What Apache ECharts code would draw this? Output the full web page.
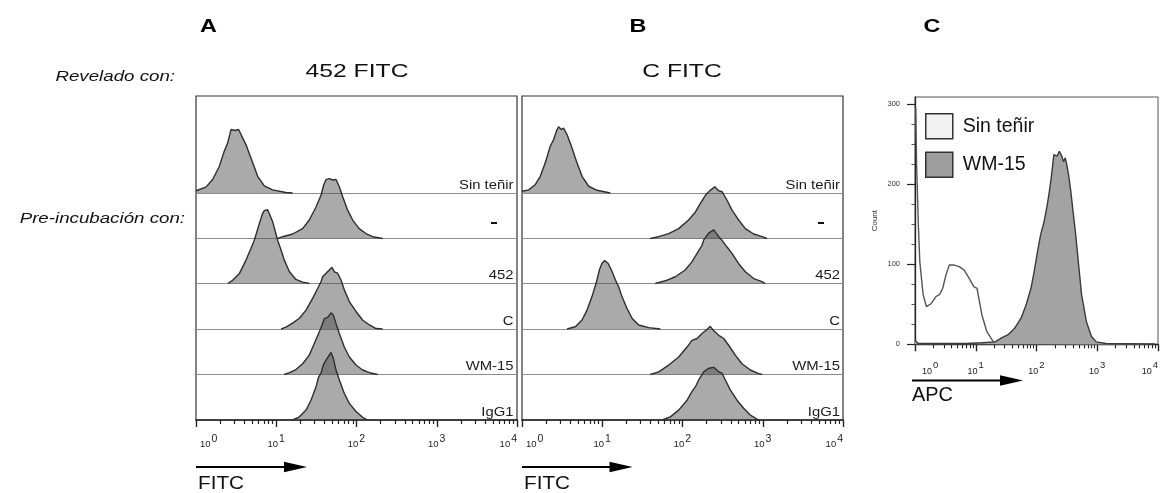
<!DOCTYPE html>
<html>
<head>
<meta charset="utf-8">
<script src="https://cdn.jsdelivr.net/npm/echarts@6/dist/echarts.min.js"></script>
<style>
html,body{margin:0;padding:0;background:#fff;}
#chart{width:1161px;height:493px;}
</style>
</head>
<body>
<div id="chart"></div>
<script>
// ---------------- DATA ----------------
const panelLetters = ['A', 'B', 'C'];
const panelTitles = ['452 FITC', 'C FITC'];
const rowLabels = ['Sin teñir', '-', '452', 'C', 'WM-15', 'IgG1'];
const sideLabels = ['Revelado con:', 'Pre-incubación con:'];
const xAxisNames = ['FITC', 'FITC', 'APC'];
const decadeTicks = [1, 10, 100, 1000, 10000];
const minorTicks = [2,3,4,5,6,7,8,9,20,30,40,50,60,70,80,90,200,300,400,500,600,700,800,900,2000,3000,4000,5000,6000,7000,8000,9000];
const countTicks = [0, 100, 200, 300];
const countMinorTicks = [25, 50, 75, 125, 150, 175, 225, 250, 275];
const legendNames = ['Sin teñir', 'WM-15'];

// Panel A (revealed with 452 FITC): [fluorescence, events]
const A_sinTenir = [[1.0,5],[1.33,13],[1.61,30],[1.95,59],[2.25,93],[2.48,111],[2.73,141],[2.86,144],[3.09,139],[3.40,141],[3.64,130],[4.2,107],[4.84,78],[5.87,37],[7.1,16],[9.0,7],[13.2,1],[16,0]];
const A_none = [[10.4,0],[12.0,4],[16.0,10],[21.3,22],[25.8,41],[31.3,70],[36.1,96],[39.0,119],[41.7,131],[45.8,133],[50.5,130],[55.6,131],[61.1,115],[67.3,93],[77.6,63],[89.6,41],[108,22],[131,11],[159,4],[212,0]];
const A_452 = [[2.48,0],[2.86,7],[3.47,22],[4.2,52],[4.84,78],[5.33,96],[6.15,133],[6.77,156],[7.1,162],[7.45,158],[7.82,164],[9.0,138],[10.4,96],[11.5,74],[12.6,52],[14.6,26],[17.6,9],[21.3,3],[25.8,0]];
const A_C = [[11.5,0],[13.2,4],[16.0,13],[19.4,24],[23.5,42],[28.4,68],[32.8,90],[36.1,105],[37.9,116],[41.7,124],[45.8,131],[49.5,137],[53.0,127],[58.2,124],[64.1,109],[70.5,87],[81.4,61],[98.6,39],[119,20],[145,9],[175,1],[212,0]];
const A_WM15 = [[12.6,0],[14.6,4],[17.6,11],[21.3,24],[25.8,43],[29.8,69],[34.4,95],[37.2,110],[39.7,124],[43.7,127],[48.1,137],[51.4,132],[55.6,113],[61.1,91],[70.5,61],[81.4,39],[98.6,21],[119,10],[145,4],[184,0]];
const A_IgG1 = [[16.0,0],[19.4,7],[23.5,22],[27.1,44],[31.3,74],[33.8,96],[36.1,104],[38.6,122],[41.7,133],[48.1,150],[51.4,137],[55.6,111],[61.1,89],[70.5,59],[81.4,37],[98.6,19],[119,6],[138,0]];

// Panel B (revealed with C FITC)
const B_sinTenir = [[1.0,4],[1.21,7],[1.47,19],[1.69,37],[1.95,67],[2.25,104],[2.48,119],[2.73,141],[2.86,147],[3.09,141],[3.30,144],[3.64,130],[4.2,100],[4.84,67],[5.6,37],[6.77,15],[8.6,6],[12.6,0]];
const B_none = [[39.7,0],[50.5,4],[67.3,11],[89.6,22],[119,41],[145,59],[167,78],[193,96],[222,107],[252,115],[283,106],[311,104],[359,85],[414,63],[501,41],[607,22],[771,10],[979,4],[1130,0]];
const B_452 = [[45.8,0],[61.1,6],[81.4,15],[108,30],[131,48],[152,67],[175,85],[184,97],[212,112],[245,119],[283,104],[311,96],[359,81],[414,67],[501,44],[607,26],[771,11],[979,4],[1077,0]];
const B_C = [[3.64,0],[4.62,5],[5.6,20],[6.46,42],[7.45,72],[8.36,101],[9.2,131],[9.93,146],[10.7,152],[11.8,146],[13.0,131],[14.6,109],[16.0,94],[17.6,72],[20.3,46],[23.5,24],[28.4,9],[37.9,3],[53.0,0]];
const B_WM15 = [[39.7,0],[50.5,6],[67.3,21],[89.6,39],[114,61],[131,76],[152,80],[175,91],[202,100],[222,107],[245,97],[283,87],[326,80],[376,65],[455,43],[551,24],[700,10],[889,2],[979,0]];
const B_IgG1 = [[55.6,0],[70.5,7],[89.6,22],[114,44],[131,63],[145,74],[159,89],[184,107],[212,115],[245,117],[283,107],[311,104],[342,89],[394,67],[478,44],[578,26],[700,11],[889,0]];

// Panel C (APC, Count)
const C_sinTenir = [[1.03,295],[1.06,228],[1.13,153],[1.2,103],[1.36,62],[1.54,47],[1.86,51],[2.23,60],[2.53,62],[2.86,70],[3.24,87],[3.67,99],[4.42,99],[5.32,97],[6.4,93],[7.71,83],[9.29,72],[10.5,70],[11.2,58],[12.6,37],[15.2,16],[19.5,3],[23.5,1],[81,1],[964,0],[8900,0]];
const C_WM15 = [[1.0,5],[1.13,1],[1.98,1],[6.8,1],[12.6,2],[20.8,3],[26.6,8],[34.1,12],[43.6,20],[55.9,33],[67.3,49],[81.1,70],[91.7,91],[104,116],[117,137],[133,153],[147,170],[160,187],[175,208],[193,237],[205,239],[218,235],[238,241],[262,235],[279,228],[297,233],[316,224],[337,212],[367,191],[405,162],[442,137],[488,103],[552,62],[665,28],[800,10],[964,3],[1400,1],[8900,0]];

// ---------------- LAYOUT / STYLE ----------------
const FONT = '"Liberation Sans", Arial, Helvetica, sans-serif';
const panelsAB = [
  {id: 'A', left: 196, width: 321, rows: [A_sinTenir, A_none, A_452, A_C, A_WM15, A_IgG1], labelRight: 513.5, dashX: 494},
  {id: 'B', left: 522, width: 321, rows: [B_sinTenir, B_none, B_452, B_C, B_WM15, B_IgG1], labelRight: 840, dashX: 821}
];
const baselines = [193, 238.5, 283.5, 329, 374.5, 420];
const ROW_H = 45;
const FILL = 'rgba(74,74,74,0.47)';
const LINE = '#2e2e2e';

const grid = [], xAxis = [], yAxis = [], series = [];

function expLabel() {
  return function (v) {
    const e = Math.round(Math.log10(v));
    return (v === 1 ? '{sp| }' : '') + '{b|10}{e|' + e + '}';
  };
}

panelsAB.forEach(function (p) {
  // frame
  grid.push({left: p.left, top: 96, width: p.width, height: 324, show: true, borderColor: '#333', borderWidth: 1.2, backgroundColor: 'transparent'});
  let gi = grid.length - 1;
  xAxis.push({gridIndex: gi, type: 'value', show: false});
  yAxis.push({gridIndex: gi, type: 'value', show: false});
  p.rows.forEach(function (data, r) {
    const last = r === p.rows.length - 1;
    grid.push({left: p.left, top: baselines[r] - ROW_H, width: p.width, height: ROW_H});
    gi = grid.length - 1;
    xAxis.push({
      gridIndex: gi, type: 'log', logBase: 10, min: 1, max: 10000, position: 'bottom',
      axisLine: {show: true, onZero: false, lineStyle: {color: last ? '#222' : '#8c8c8c', width: last ? 1.6 : 1}},
      axisTick: {show: last, customValues: decadeTicks, length: 7, lineStyle: {color: '#222', width: 1.4}},
      axisLabel: {
        show: last, customValues: decadeTicks, margin: 14, color: '#222',
        alignMinLabel: 'left', alignMaxLabel: 'right',
        formatter: expLabel(),
        rich: {
          b: {fontSize: 9.5, fontFamily: FONT, color: '#222'},
          e: {fontSize: 10.5, fontFamily: FONT, color: '#222', padding: [0, 0, 9, 1]},
          sp: {width: 4, fontSize: 9}
        }
      },
      splitLine: {show: false}
    });
    const xi = xAxis.length - 1;
    yAxis.push({gridIndex: gi, type: 'value', min: 0, max: 100, show: false});
    const yi = yAxis.length - 1;
    if (last) {
      xAxis.push({
        gridIndex: gi, type: 'log', logBase: 10, min: 1, max: 10000, position: 'bottom',
        axisLine: {show: false, onZero: false},
        axisTick: {show: true, customValues: minorTicks, length: 4, lineStyle: {color: '#222', width: 1.2}},
        axisLabel: {show: false}, splitLine: {show: false}
      });
    }
    series.push({
      type: 'line', name: p.id + ' ' + rowLabels[r], xAxisIndex: xi, yAxisIndex: yi,
      data: data, symbol: 'none', showSymbol: false, clip: false, silent: true,
      lineStyle: {color: LINE, width: 1.4}, areaStyle: {color: FILL, opacity: 1},
      itemStyle: {color: '#999'}, z: 2
    });
  });
});

// Panel C
grid.push({left: 915, top: 97, width: 248, height: 247.3, show: true, borderColor: '#555', borderWidth: 1, backgroundColor: 'transparent'});
const gc = grid.length - 1;
xAxis.push({
  gridIndex: gc, type: 'log', logBase: 10, min: 1, max: 10000, position: 'bottom',
  axisLine: {show: true, onZero: false, lineStyle: {color: '#222', width: 1.4}},
  axisTick: {show: true, customValues: decadeTicks, length: 7, lineStyle: {color: '#222', width: 1.4}},
  axisLabel: {
    show: true, customValues: decadeTicks, margin: 16.5,
    alignMinLabel: 'left', alignMaxLabel: 'right',
    formatter: expLabel(),
    rich: {
      b: {fontSize: 9, fontFamily: FONT, color: '#222'},
      e: {fontSize: 9.5, fontFamily: FONT, color: '#222', padding: [0, 0, 11, 1]},
      sp: {width: 7, fontSize: 9}
    }
  },
  splitLine: {show: false}
});
const cxi = xAxis.length - 1;
xAxis.push({
  gridIndex: gc, type: 'log', logBase: 10, min: 1, max: 10000, position: 'bottom',
  axisLine: {show: false, onZero: false},
  axisTick: {show: true, customValues: minorTicks, length: 4, lineStyle: {color: '#222', width: 1.1}},
  axisLabel: {show: false}, splitLine: {show: false}
});
yAxis.push({
  gridIndex: gc, type: 'value', min: 0, max: 309, position: 'left',
  name: 'Count', nameLocation: 'middle', nameGap: 36, nameRotate: 90,
  nameTextStyle: {fontSize: 8, color: '#333', fontFamily: FONT},
  axisLine: {show: true, onZero: false, lineStyle: {color: '#222', width: 1.3}},
  axisTick: {show: true, customValues: countTicks, length: 8, lineStyle: {color: '#222', width: 1.2}},
  axisLabel: {show: true, customValues: countTicks, fontSize: 7.5, color: '#333', margin: 15, fontFamily: FONT},
  splitLine: {show: false}
});
const cyi = yAxis.length - 1;
yAxis.push({
  gridIndex: gc, type: 'value', min: 0, max: 309, position: 'left',
  axisLine: {show: false, onZero: false},
  axisTick: {show: true, customValues: countMinorTicks, length: 3.5, lineStyle: {color: '#555', width: 1}},
  axisLabel: {show: false}, splitLine: {show: false}
});
series.push({
  type: 'line', name: legendNames[0], xAxisIndex: cxi, yAxisIndex: cyi, data: C_sinTenir,
  symbol: 'none', showSymbol: false, clip: true, silent: true, color: '#f2f2f2',
  lineStyle: {color: '#555', width: 1.4}, itemStyle: {color: '#f2f2f2'}, z: 2
});
series.push({
  type: 'line', name: legendNames[1], xAxisIndex: cxi, yAxisIndex: cyi, data: C_WM15,
  symbol: 'none', showSymbol: false, clip: true, silent: true, color: '#9d9d9d',
  lineStyle: {color: '#3a3a3a', width: 1.4}, areaStyle: {color: '#a3a3a3', opacity: 1},
  itemStyle: {color: '#9d9d9d'}, z: 3
});

// ---------------- TEXT & DECORATION ----------------
function txt(x, y, text, o) {
  return {
    type: 'text', x: x, y: y, scaleX: o.sx || 1, silent: true, z: 10,
    style: {
      text: text, fill: o.color || '#111', fontSize: o.size, fontFamily: FONT,
      fontWeight: o.weight || 'normal', fontStyle: o.style || 'normal',
      align: o.align || 'left', verticalAlign: o.va || 'middle'
    }
  };
}
function arrow(x1, x2, y) {
  return [
    {type: 'line', silent: true, shape: {x1: x1, y1: y, x2: x2 - 20, y2: y}, style: {stroke: '#000', lineWidth: 2.2}},
    {type: 'polygon', silent: true, shape: {points: [[x2 - 23, y - 5.3], [x2, y], [x2 - 23, y + 5.3]]}, style: {fill: '#000'}}
  ];
}
const graphic = [
  txt(208.5, 27, panelLetters[0], {size: 18, weight: 'bold', align: 'center', sx: 1.3, color: '#000'}),
  txt(638, 27, panelLetters[1], {size: 18, weight: 'bold', align: 'center', sx: 1.3, color: '#000'}),
  txt(932, 27, panelLetters[2], {size: 18, weight: 'bold', align: 'center', sx: 1.3, color: '#000'}),
  txt(175, 76.5, sideLabels[0], {size: 14.4, style: 'italic', align: 'right', sx: 1.3}),
  txt(185, 219, sideLabels[1], {size: 14.4, style: 'italic', align: 'right', sx: 1.3}),
  txt(357, 71.5, panelTitles[0], {size: 19, align: 'center', sx: 1.3}),
  txt(682, 71.5, panelTitles[1], {size: 19, align: 'center', sx: 1.3}),
  txt(198, 484, xAxisNames[0], {size: 18.5, sx: 1.12}),
  txt(524, 484, xAxisNames[1], {size: 18.5, sx: 1.12}),
  txt(912, 396, xAxisNames[2], {size: 19.5, sx: 1.02})
].concat(arrow(196, 307, 467), arrow(522, 632.5, 467), arrow(912, 1023, 380.5));
panelsAB.forEach(function (p) {
  rowLabels.forEach(function (lab, r) {
    if (lab === '-') {
      graphic.push(txt(p.dashX, 222.5, lab, {size: 16, weight: 'bold', align: 'center', sx: 1.5}));
    } else {
      graphic.push(txt(p.labelRight, baselines[r] - 1, lab, {size: 13.5, align: 'right', va: 'bottom', sx: 1.1, color: '#1a1a1a'}));
    }
  });
});

const chart = echarts.init(document.getElementById('chart'), null, {renderer: 'canvas'});
chart.setOption({
  animation: false,
  backgroundColor: '#fff',
  textStyle: {fontFamily: FONT},
  grid: grid, xAxis: xAxis, yAxis: yAxis, series: series,
  legend: {
    data: [
      {name: legendNames[0], icon: 'rect', itemStyle: {color: '#f2f2f2', borderColor: '#333', borderWidth: 1.5}},
      {name: legendNames[1], icon: 'rect', itemStyle: {color: '#9d9d9d', borderColor: '#333', borderWidth: 1.5}}
    ],
    left: 925, top: 113, orient: 'vertical', padding: 0,
    itemWidth: 27, itemHeight: 25, itemGap: 12, selectedMode: false,
    textStyle: {fontSize: 19.5, color: '#111', fontFamily: FONT, padding: [0, 0, 0, 5]}
  },
  graphic: graphic
});
</script>
</body>
</html>
